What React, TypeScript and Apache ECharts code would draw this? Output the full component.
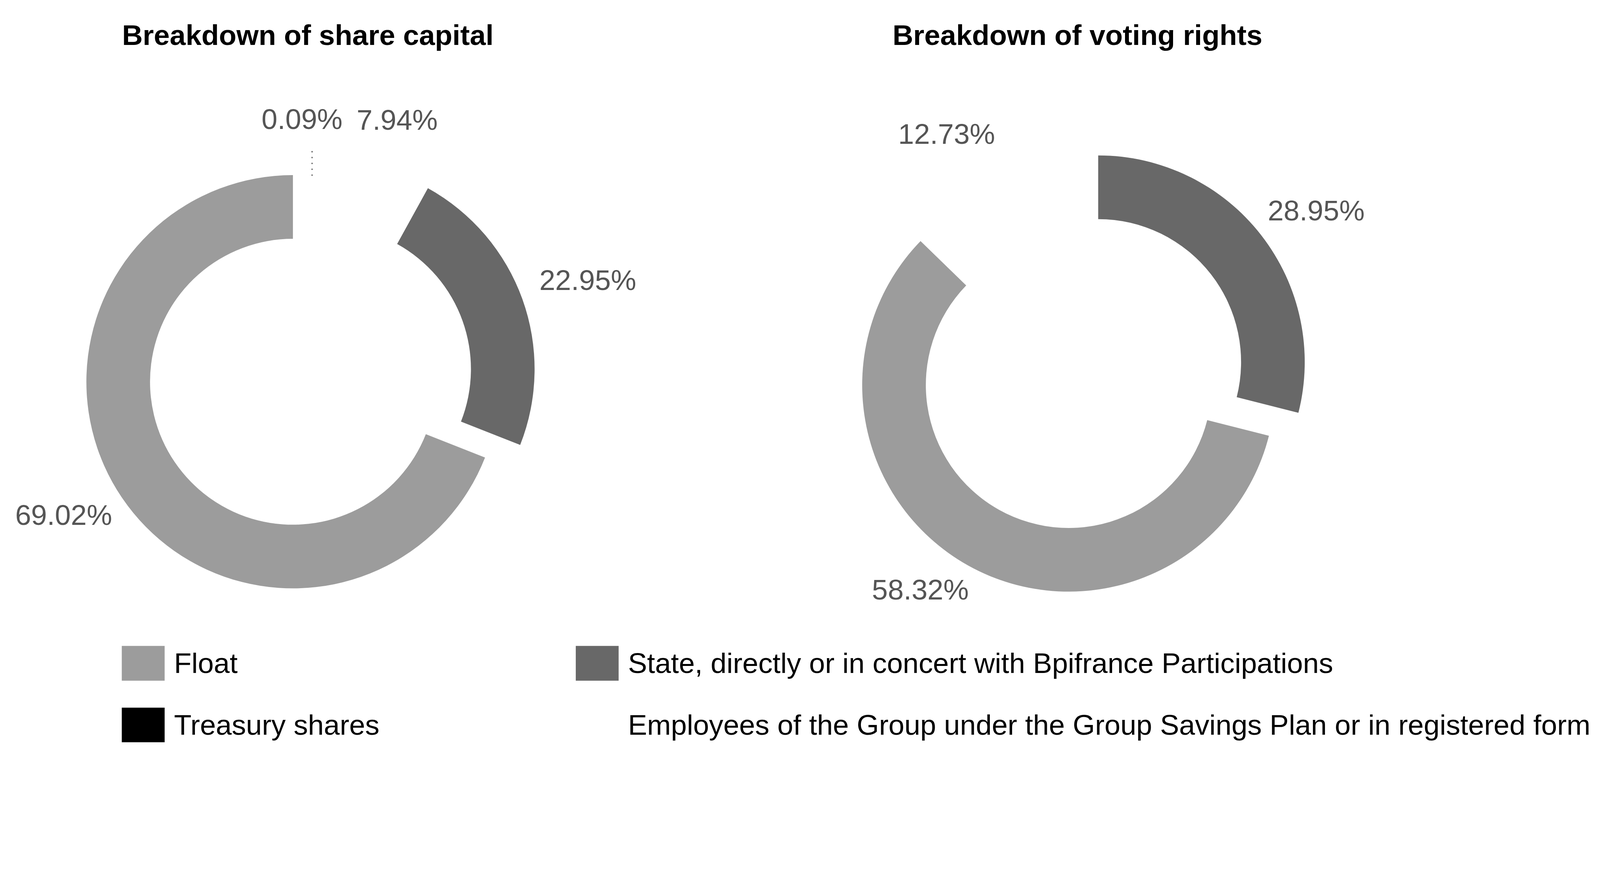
import React, { useEffect, useRef, useState } from "react";
import * as echarts from "echarts";

// ---- data ----
const chartTitles = ["Breakdown of share capital", "Breakdown of voting rights"];
const TREASURY = "Treasury shares";
const EMPLOYEES = "Employees of the Group under the Group Savings Plan or in registered form";
const STATE = "State, directly or in concert with Bpifrance Participations";
const FLOAT = "Float";

const capitalCategories = [TREASURY, EMPLOYEES, STATE, FLOAT];
const capitalValues = [0.09, 7.94, 22.95, 69.02];

const votingCategories = [STATE, FLOAT, EMPLOYEES];
const votingValues = [28.95, 58.32, 12.73];

const legendLeftColumn = [FLOAT, TREASURY];
const legendRightColumn = [STATE, EMPLOYEES];

// ---- styles / layout ----
const categoryColors: Record<string, string> = {
  [TREASURY]: "#000000",
  [EMPLOYEES]: "#ffffff",
  [STATE]: "#686868",
  [FLOAT]: "#9c9c9c",
};
const FONT = "'Liberation Sans', Arial, sans-serif";
const W = 4927;
const H = 2285;
const RADIUS = [440, 636];
const EXPLODE = 115;
const EXPLODED = STATE;

const capitalCenter = [902, 1175];
const votingCenter = [3291, 1185];
const capitalLabelPos: number[][] = [
  [930, 367],
  [1223, 369],
  [1810, 863],
  [196, 1585],
];
const votingLabelPos: number[][] = [
  [4053, 648],
  [2834, 1815],
  [2915, 413],
];
const treasuryLeader = { x: 961, top: 456, bottom: 613 };
const legendColumnsX = [375, 1773];
const legendRowsY = [1988, 2178];

const HIDDEN = "rgba(0,0,0,0)";

function explodedCenter(cats: string[], vals: number[], center: number[]) {
  const total = vals.reduce((a, b) => a + b, 0);
  const idx = cats.indexOf(EXPLODED);
  let before = 0;
  for (let i = 0; i < idx; i++) before += vals[i];
  const mid = ((before + vals[idx] / 2) / total) * 2 * Math.PI;
  return [center[0] + EXPLODE * Math.sin(mid), center[1] - EXPLODE * Math.cos(mid)];
}

function pieSeries(
  cats: string[],
  vals: number[],
  center: number[],
  labelPos: number[][],
  exploded: boolean
) {
  const data = cats.map((name, i) => {
    const visible = exploded ? name === EXPLODED : name !== EXPLODED;
    const sliceColor = !visible || name === TREASURY ? HIDDEN : categoryColors[name];
    return {
      name,
      value: vals[i],
      itemStyle: { color: sliceColor },
      label: { show: visible },
    };
  });
  return {
    type: "pie",
    center: exploded ? explodedCenter(cats, vals, center) : center,
    radius: RADIUS,
    startAngle: 90,
    clockwise: true,
    avoidLabelOverlap: false,
    silent: true,
    minAngle: 0,
    emphasis: { disabled: true },
    itemStyle: { borderWidth: 0 },
    label: {
      show: true,
      position: "outside",
      fontFamily: FONT,
      fontSize: 88,
      color: "#555555",
      opacity: 1,
      formatter: (p: any) => `${Number(p.value).toFixed(2)}%`,
    },
    labelLine: { show: false },
    labelLayout: (params: any) => {
      const pt = labelPos[params.dataIndex];
      return { x: pt[0], y: pt[1], align: "center", verticalAlign: "middle" };
    },
    data,
  };
}

function legendItem(name: string, left: number, top: number) {
  return {
    data: [{ name, itemStyle: { color: categoryColors[name], opacity: 1, borderWidth: 0 } }],
    left,
    top,
    orient: "vertical",
    icon: "rect",
    itemWidth: 132,
    itemHeight: 107,
    itemGap: 0,
    padding: 0,
    selectedMode: false,
    textStyle: {
      fontFamily: FONT,
      fontSize: 88,
      color: "#000000",
      padding: [0, 0, 0, 24],
    },
  };
}

export default function App() {
  const ref = useRef<HTMLDivElement>(null);
  const [scale, setScale] = useState(() =>
    typeof window !== "undefined" && window.innerWidth > 0 ? window.innerWidth / W : 1
  );

  useEffect(() => {
    document.body.style.margin = "0";
    document.body.style.overflow = "hidden";
    const s = window.innerWidth > 0 ? window.innerWidth / W : 1;
    if (Math.abs(s - scale) > 1e-4) setScale(s);
  }, []);

  useEffect(() => {
    if (!ref.current) return;
    const chart = echarts.init(ref.current, null, { renderer: "svg" });
    const legends: any[] = [];
    legendLeftColumn.forEach((n, i) => legends.push(legendItem(n, legendColumnsX[0], legendRowsY[i])));
    legendRightColumn.forEach((n, i) => legends.push(legendItem(n, legendColumnsX[1], legendRowsY[i])));
    const titleStyle = { fontFamily: FONT, fontSize: 88, fontWeight: "bold", color: "#000000" };
    chart.setOption({
      animation: false,
      backgroundColor: "#ffffff",
      title: [
        { text: chartTitles[0], left: 948, top: 64, textAlign: "center", padding: 0, textStyle: titleStyle },
        { text: chartTitles[1], left: 3318, top: 64, textAlign: "center", padding: 0, textStyle: titleStyle },
      ],
      legend: legends,
      graphic: [
        {
          type: "line",
          silent: true,
          shape: {
            x1: treasuryLeader.x,
            y1: treasuryLeader.bottom,
            x2: treasuryLeader.x,
            y2: treasuryLeader.top,
          },
          style: { stroke: "#666666", lineWidth: 4, lineDash: [4, 14] },
        },
      ],
      series: [
        pieSeries(capitalCategories, capitalValues, capitalCenter, capitalLabelPos, false),
        pieSeries(capitalCategories, capitalValues, capitalCenter, capitalLabelPos, true),
        pieSeries(votingCategories, votingValues, votingCenter, votingLabelPos, false),
        pieSeries(votingCategories, votingValues, votingCenter, votingLabelPos, true),
      ],
    });
    return () => chart.dispose();
  }, [scale]);

  return (
    <div style={{ width: W * scale, height: H * scale, overflow: "hidden", position: "relative" }}>
      <div
        ref={ref}
        style={{
          width: W,
          height: H,
          transform: `scale(${scale})`,
          transformOrigin: "0 0",
          position: "absolute",
          left: 0,
          top: 0,
        }}
      />
    </div>
  );
}
